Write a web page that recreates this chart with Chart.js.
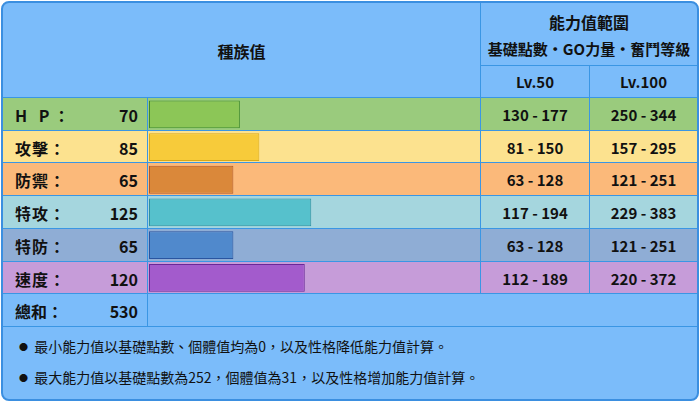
<!DOCTYPE html><html><head><meta charset="utf-8">
<script src="https://cdn.jsdelivr.net/npm/chart.js@4/dist/chart.umd.min.js"></script>
<style>
body{margin:0;width:700px;height:401px;background:#fff;font-family:"Noto Sans CJK TC","Noto Sans",sans-serif;overflow:hidden}
#box{position:absolute;left:1px;top:1px;width:694px;height:396px;border:2px solid #3b8fe0;border-radius:8px;background:#7bbcfa;overflow:hidden}
.a{position:absolute;box-sizing:border-box}
.t{position:absolute;font-weight:bold;color:#111;font-size:16px;white-space:nowrap}
.hl{position:absolute;height:1px;background:#3a96e4}
.vl{position:absolute;width:1px;background:#3a96e4}
</style></head><body>
<div id="box"></div>
<script>
const statLabels=["H P：","攻擊：","防禦：","特攻：","特防：","速度："];
const statValues=[70,85,65,125,65,120];
const lv50=["130 - 177","81 - 150","63 - 128","117 - 194","63 - 128","112 - 189"];
const lv100=["250 - 344","157 - 295","121 - 251","229 - 383","121 - 251","220 - 372"];
const totalLabel="總和：",totalValue=530;
const rowColors=["#9acb7d","#fce28f","#fbb97a","#a5d6de","#8fadd5","#c69cd9"];
const barColors=["#8cc657","#f7cb3a","#da883a","#56c1cc","#5089cc","#a35bcc"];
const barBorders=["#3f8a28","#d8a818","#b0582a","#2f8f9e","#2a55a0","#6a2898"];
const notes=["最小能力值以基礎點數、個體值均為0，以及性格降低能力值計算。","最大能力值以基礎點數為252，個體值為31，以及性格增加能力值計算。"];
const box=document.getElementById('box');
function el(cls,css,txt){const d=document.createElement('div');d.className=cls;d.style.cssText=css;if(txt!==undefined)d.textContent=txt;box.appendChild(d);return d;}
const top0=95,rh=32.7;
statLabels.forEach((l,i)=>{
 const y=top0+i*rh;
 el('a',`left:0;top:${y}px;width:694px;height:${rh}px;background:${rowColors[i]}`);
 el('t',`left:12px;top:${y+5}px;letter-spacing:${i==0?4:1}px`,l);
 el('t',`left:80px;width:55px;text-align:right;top:${y+5}px`,statValues[i]);
 el('t',`left:478px;width:108px;text-align:center;top:${y+6}px;font-size:15px`,lv50[i]);
 el('t',`left:587px;width:107px;text-align:center;top:${y+6}px;font-size:15px`,lv100[i]);
});
const ty=top0+6*rh;
el('t',`left:12px;top:${ty+5}px`,totalLabel);
el('t',`left:80px;width:55px;text-align:right;top:${ty+5}px`,totalValue);
notes.forEach((n,i)=>el('t',`left:16px;top:${ty+42+i*31}px;font-weight:normal;font-size:14px`,'●  '+n).innerHTML='<span style="font-size:9px;vertical-align:2px">●</span>&nbsp;&nbsp;'+n);
el('t','left:0;width:477px;text-align:center;top:36px;font-size:16px','種族值');
el('t','left:478px;width:216px;text-align:center;top:7px;font-size:16px','能力值範圍');
el('t','left:478px;width:216px;text-align:center;top:35px;font-size:15px','基礎點數・GO力量・奮鬥等級');
el('t','left:478px;width:108px;text-align:center;top:68px;font-size:15px','Lv.50');
el('t','left:587px;width:107px;text-align:center;top:68px;font-size:15px','Lv.100');
el('hl','left:478px;top:62px;width:216px');
for(let i=0;i<=7;i++)el('hl',`left:0;top:${Math.round(top0+i*rh)-1}px;width:694px`);
el('vl',`left:144px;top:${top0}px;height:${7*rh}px`);
el('vl',`left:477px;top:0;height:${top0+6*rh}px`);
el('vl',`left:586px;top:62px;height:${top0-62+6*rh}px`);
const wrap=el('a',`left:146px;top:${top0}px;width:331px;height:${6*rh}px`);
const c=document.createElement('canvas');wrap.appendChild(c);
new Chart(c,{type:'bar',data:{labels:statLabels,datasets:[{data:statValues,backgroundColor:barColors,borderColor:barBorders,borderWidth:1,borderSkipped:false,barPercentage:0.85,categoryPercentage:1}]},
options:{indexAxis:'y',responsive:true,maintainAspectRatio:false,animation:false,layout:{padding:0},
plugins:{legend:{display:false},tooltip:{enabled:false}},
scales:{x:{display:false,min:0,max:255},y:{display:false}}}});
</script></body></html>
